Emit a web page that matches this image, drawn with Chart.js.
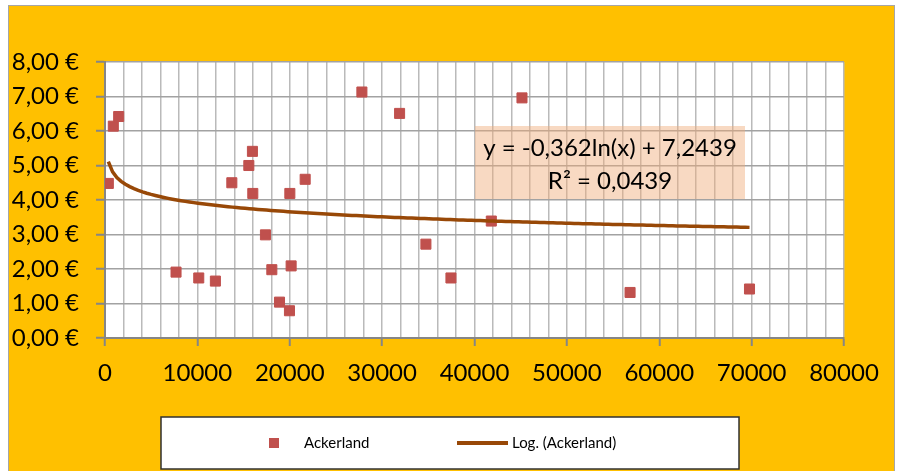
<!DOCTYPE html>
<html>
<head>
<meta charset="utf-8">
<script src="https://cdn.jsdelivr.net/npm/chart.js@4/dist/chart.umd.min.js"></script>
<style>
  body { margin: 0; background: #fff; }
  #frame { position: absolute; left: 8px; top: 5px; width: 885px; height: 470px; background: #ffc000; border: 1px solid #a6a6a6; }
  #chart { position: absolute; left: 0; top: 0; }
</style>
</head>
<body>
<div id="frame"></div>
<canvas id="chart" width="899" height="471"></canvas>
<script>
// Ackerland: x = Fläche / Einwohner, y = Preis in €
const ackerX = [360, 900, 1480, 7690, 10150, 11950, 13730, 15570, 15960, 16000, 17370, 18060, 18890,
                19970, 20010, 20150, 21670, 27810, 31890, 34740, 37450, 41820, 45140, 56840, 69770];
const ackerY = [4.48, 6.14, 6.42, 1.91, 1.74, 1.65, 4.50, 5.00, 5.41, 4.19, 2.99, 1.98, 1.04,
                0.79, 4.19, 2.09, 4.60, 7.13, 6.51, 2.72, 1.74, 3.39, 6.96, 1.32, 1.42];

// coefficients of the log trendline as printed in the chart
const trendSlope = -0.362;
const trendIntercept = 7.2439;
const trendR2 = 0.0439;

const yTicks = [0, 1, 2, 3, 4, 5, 6, 7, 8];
const xLabelStep = 10000;

const FONT = 'Lato, "Open Sans", sans-serif';

let points = ackerX.map((x, i) => ({ x: x, y: ackerY[i] }));

let xMin = Math.min(...ackerX), xMax = Math.max(...ackerX);
let trend = [];
for (let i = 0; i <= 150; i++) {
    let x = xMin + (xMax - xMin) * i / 150;
    trend.push({ x: x, y: trendSlope * Math.log(x) + trendIntercept });
}

function de(n, d) { return n.toFixed(d).replace('.', ','); }

const plotBg = {
    id: 'plotBg',
    beforeDraw(chart) {
        let a = chart.chartArea;
        chart.ctx.save();
        chart.ctx.fillStyle = '#fff';
        chart.ctx.fillRect(a.left, a.top, a.right - a.left, a.bottom - a.top);
        chart.ctx.restore();
    }
};

const eqBox = {
    id: 'eqBox',
    beforeDatasetsDraw(chart) {
        let c = chart.ctx;
        c.save();
        c.fillStyle = 'rgba(240,170,120,0.45)';
        c.fillRect(475, 126, 270, 73);
        c.fillStyle = '#000';
        c.font = '24px ' + FONT;
        c.textAlign = 'center';
        c.textBaseline = 'middle';
        c.fillText('y = ' + de(trendSlope, 3) + 'ln(x) + ' + de(trendIntercept, 4), 610, 148);
        c.fillText('R² = ' + de(trendR2, 4), 610, 181);
        c.restore();
    }
};

const boxLegend = {
    id: 'boxLegend',
    afterDraw(chart) {
        let c = chart.ctx;
        let ds = chart.data.datasets;
        c.save();
        c.fillStyle = '#fff';
        c.fillRect(161, 417, 578, 52);
        c.strokeStyle = '#303030';
        c.lineWidth = 1.5;
        c.strokeRect(161, 417, 578, 52);
        c.fillStyle = ds[0].backgroundColor;
        c.fillRect(269, 438, 10, 10);
        c.strokeStyle = ds[1].borderColor;
        c.lineWidth = 4;
        c.beginPath();
        c.moveTo(457, 443);
        c.lineTo(508, 443);
        c.stroke();
        c.fillStyle = '#000';
        c.font = '15px ' + FONT;
        c.textBaseline = 'middle';
        c.fillText(ds[0].label, 304, 443);
        c.fillText(ds[1].label, 512, 443);
        c.restore();
    }
};

new Chart(document.getElementById('chart'), {
    type: 'scatter',
    data: {
        datasets: [{
            label: 'Ackerland',
            data: points,
            backgroundColor: '#c0504d',
            borderColor: '#c0504d',
            pointStyle: 'rect',
            pointRadius: 7.1,
            pointHoverRadius: 7.1,
            order: 2
        }, {
            label: 'Log. (Ackerland)',
            type: 'line',
            data: trend,
            borderColor: '#984807',
            borderWidth: 3.5,
            pointRadius: 0,
            fill: false,
            order: 1
        }]
    },
    options: {
        responsive: false,
        animation: false,
        layout: { padding: { left: 9, top: 62, right: 55, bottom: 83 } },
        plugins: { legend: { display: false }, tooltip: { enabled: false } },
        scales: {
            x: {
                type: 'linear',
                min: 0,
                max: 80000,
                afterFit(s) { s.height = 50; },
                border: { color: '#868686', width: 2 },
                grid: {
                    color: '#bababa',
                    lineWidth: 1.5,
                    tickLength: 8,
                    tickWidth: 2,
                    tickColor: ctx => ctx.tick && ctx.tick.value % xLabelStep === 0 ? '#868686' : 'rgba(0,0,0,0)'
                },
                ticks: {
                    stepSize: 2000,
                    autoSkip: false,
                    maxRotation: 0,
                    padding: 13,
                    color: '#000',
                    font: { family: FONT, size: 24 },
                    callback: v => v % xLabelStep === 0 ? String(v) : ''
                }
            },
            y: {
                min: yTicks[0],
                max: yTicks[yTicks.length - 1],
                afterFit(s) { s.width = 96; },
                border: { color: '#868686', width: 2 },
                grid: {
                    color: '#a2a2a2',
                    lineWidth: 1.5,
                    tickLength: 9,
                    tickWidth: 2,
                    tickColor: '#868686'
                },
                afterBuildTicks(s) { s.ticks = yTicks.map(v => ({ value: v })); },
                ticks: {
                    padding: 17,
                    color: '#000',
                    font: { family: FONT, size: 24 },
                    callback: v => de(v, 2) + ' €'
                }
            }
        }
    },
    plugins: [plotBg, eqBox, boxLegend]
});
</script>
</body>
</html>
